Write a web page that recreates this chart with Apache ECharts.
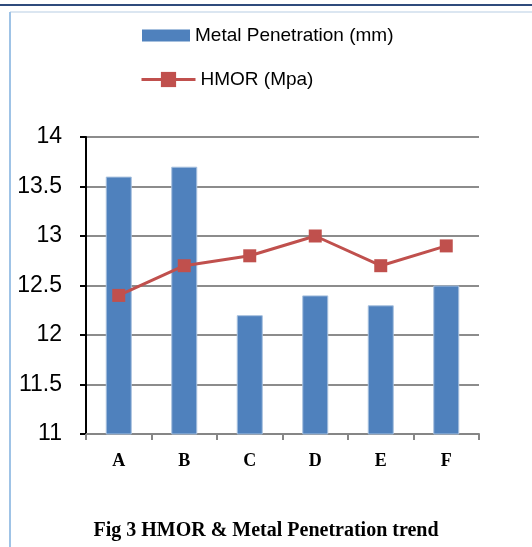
<!DOCTYPE html>
<html>
<head>
<meta charset="utf-8">
<script src="https://cdn.jsdelivr.net/npm/echarts@6/dist/echarts.min.js"></script>
<style>
  html, body { margin: 0; padding: 0; background: #fff; }
  #chart { width: 532px; height: 547px; }
</style>
</head>
<body>
<div id="chart"></div>
<script>
// Sample groups
const categories = ['A', 'B', 'C', 'D', 'E', 'F'];
// Metal penetration depth (mm)
const metalPenetration = [13.6, 13.7, 12.2, 12.4, 12.3, 12.5];
// Hot modulus of rupture (MPa)
const hmor = [12.4, 12.7, 12.8, 13.0, 12.7, 12.9];
// Value axis range
const yMin = 11, yMax = 14, yStep = 0.5;

const chart = echarts.init(document.getElementById('chart'), null, { renderer: 'canvas' });

chart.setOption({
  animation: false,
  backgroundColor: '#ffffff',
  graphic: [
    { type: 'rect', shape: { x: 0, y: 4, width: 532, height: 2 }, style: { fill: '#2f4b7c' } },
    { type: 'line', shape: { x1: 10, y1: 12, x2: 532, y2: 12 }, style: { stroke: '#b7cde3', lineWidth: 1 } },
    { type: 'line', shape: { x1: 10, y1: 12, x2: 10, y2: 547 }, style: { stroke: '#9fc3e6', lineWidth: 2 } },
    {
      type: 'text', left: 'center', top: 521,
      style: {
        text: 'Fig 3 HMOR & Metal Penetration trend',
        font: 'bold 20px "Liberation Serif"', fill: '#000'
      }
    }
  ],
  legend: [
    {
      data: [{ name: 'Metal Penetration (mm)', icon: 'rect' }],
      left: 137, top: 21, orient: 'vertical',
      itemWidth: 48, itemHeight: 12,
      itemStyle: { borderWidth: 0 },
      textStyle: { fontFamily: 'Liberation Sans', fontSize: 19, color: '#000' }
    },
    {
      data: ['HMOR (Mpa)'],
      left: 135, top: 65, orient: 'vertical',
      itemWidth: 54, itemHeight: 19,
      lineStyle: { width: 3 },
      textStyle: { fontFamily: 'Liberation Sans', fontSize: 19, color: '#000' }
    }
  ],
  grid: { left: 86, right: 53, top: 137, bottom: 113 },
  xAxis: {
    type: 'category',
    data: categories,
    boundaryGap: true,
    axisLine: { lineStyle: { color: '#868686', width: 2 } },
    axisTick: { show: true, alignWithLabel: false, length: 6, lineStyle: { color: '#868686', width: 2 } },
    axisLabel: {
      margin: 18, color: '#000',
      fontFamily: 'Liberation Serif', fontWeight: 'bold', fontSize: 18
    },
    splitLine: { show: false }
  },
  yAxis: {
    type: 'value',
    min: yMin, max: yMax, interval: yStep,
    axisLine: { show: true, lineStyle: { color: '#000', width: 2 } },
    axisTick: { show: true, length: 6, lineStyle: { color: '#000', width: 2 } },
    axisLabel: {
      margin: 24, color: '#000',
      fontFamily: 'Liberation Sans', fontSize: 23,
      formatter: v => String(v)
    },
    splitLine: { lineStyle: { color: '#8c8c8c', width: 2 } }
  },
  series: [
    {
      name: 'Metal Penetration (mm)',
      type: 'bar',
      data: metalPenetration,
      barWidth: 26,
      itemStyle: { color: '#4f81bd', borderColor: '#a7c0de', borderWidth: 1 },
      z: 2
    },
    {
      name: 'HMOR (Mpa)',
      type: 'line',
      data: hmor,
      symbol: 'rect',
      symbolSize: 13,
      lineStyle: { color: '#c0504d', width: 3 },
      itemStyle: { color: '#c0504d' },
      z: 3
    }
  ]
});
</script>
</body>
</html>
